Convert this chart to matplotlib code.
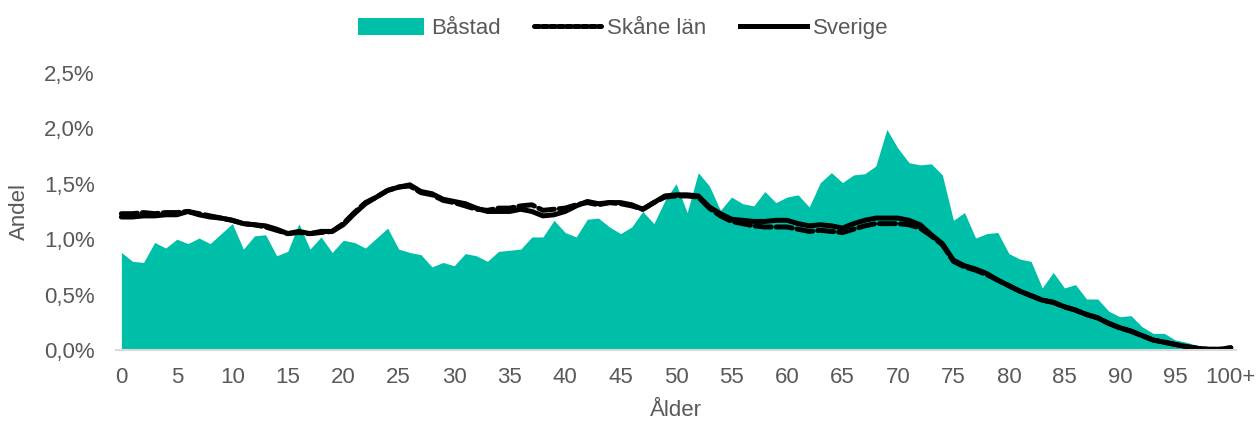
import matplotlib.pyplot as plt
from matplotlib.patches import Patch
from matplotlib.lines import Line2D
from matplotlib.ticker import FuncFormatter

plt.rcParams['font.family'] = ['Liberation Sans', 'DejaVu Sans']

ages = list(range(101))
tick_labels = ['0', '5', '10', '15', '20', '25', '30', '35', '40', '45', '50',
               '55', '60', '65', '70', '75', '80', '85', '90', '95', '100+']

# Andel av befolkningen (%) per ettårsklass
bastad = [0.88, 0.80, 0.79, 0.97, 0.92, 1.00, 0.96, 1.01, 0.96, 1.05,
          1.14, 0.91, 1.03, 1.04, 0.85, 0.89, 1.14, 0.91, 1.02, 0.88,
          0.99, 0.97, 0.92, 1.01, 1.10, 0.91, 0.88, 0.86, 0.75, 0.79,
          0.76, 0.87, 0.85, 0.80, 0.89, 0.90, 0.91, 1.02, 1.02, 1.17,
          1.06, 1.02, 1.18, 1.19, 1.11, 1.05, 1.11, 1.25, 1.14, 1.35,
          1.50, 1.24, 1.60, 1.48, 1.26, 1.38, 1.32, 1.30, 1.43, 1.33,
          1.38, 1.40, 1.29, 1.51, 1.60, 1.51, 1.58, 1.59, 1.66, 1.99,
          1.82, 1.69, 1.67, 1.68, 1.58, 1.17, 1.24, 1.01, 1.05, 1.06,
          0.87, 0.82, 0.80, 0.56, 0.70, 0.56, 0.59, 0.46, 0.46, 0.35,
          0.30, 0.31, 0.21, 0.15, 0.15, 0.09, 0.07, 0.04, 0.03, 0.02,
          0.01]

sverige = [1.20, 1.20, 1.21, 1.21, 1.22, 1.22, 1.25, 1.22, 1.20, 1.19,
           1.17, 1.14, 1.13, 1.12, 1.09, 1.05, 1.07, 1.05, 1.07, 1.07,
           1.13, 1.23, 1.32, 1.38, 1.44, 1.47, 1.49, 1.43, 1.41, 1.36,
           1.34, 1.32, 1.28, 1.25, 1.25, 1.25, 1.27, 1.25, 1.21, 1.22,
           1.25, 1.30, 1.34, 1.32, 1.33, 1.33, 1.31, 1.27, 1.33, 1.39,
           1.40, 1.40, 1.39, 1.29, 1.23, 1.18, 1.17, 1.16, 1.16, 1.17,
           1.17, 1.14, 1.12, 1.13, 1.12, 1.10, 1.14, 1.17, 1.19, 1.19,
           1.19, 1.17, 1.13, 1.04, 0.96, 0.81, 0.76, 0.73, 0.69, 0.63,
           0.58, 0.53, 0.49, 0.45, 0.43, 0.39, 0.36, 0.32, 0.29, 0.24,
           0.20, 0.17, 0.13, 0.09, 0.07, 0.05, 0.03, 0.015, 0.006, 0.006,
           0.02]

skane = [1.23, 1.23, 1.24, 1.23, 1.24, 1.24, 1.25, 1.23, 1.21, 1.19,
         1.17, 1.14, 1.13, 1.11, 1.08, 1.05, 1.06, 1.05, 1.06, 1.07,
         1.14, 1.24, 1.33, 1.38, 1.44, 1.47, 1.48, 1.42, 1.40, 1.35,
         1.33, 1.30, 1.27, 1.26, 1.28, 1.28, 1.30, 1.31, 1.26, 1.27,
         1.28, 1.31, 1.33, 1.31, 1.33, 1.32, 1.30, 1.27, 1.33, 1.38,
         1.39, 1.39, 1.38, 1.28, 1.21, 1.16, 1.14, 1.12, 1.11, 1.11,
         1.11, 1.09, 1.07, 1.08, 1.07, 1.06, 1.09, 1.12, 1.14, 1.14,
         1.14, 1.13, 1.10, 1.03, 0.95, 0.80, 0.75, 0.72, 0.68, 0.63,
         0.58, 0.53, 0.49, 0.45, 0.43, 0.39, 0.36, 0.32, 0.29, 0.24,
         0.20, 0.17, 0.13, 0.09, 0.07, 0.05, 0.03, 0.015, 0.006, 0.006,
         0.02]

teal = '#00BFA9'
grey = '#595959'

fig = plt.figure(figsize=(12.59, 4.23), dpi=100)
ax = fig.add_axes([0.092, 0.1726, 0.890, 0.655])

ax.fill_between(ages, bastad, 0, color=teal, linewidth=0)
ax.plot(ages, skane, color='black', linewidth=3.6, dashes=(3.2, 1.0),
        dash_capstyle='round')
ax.plot(ages, sverige, color='black', linewidth=3.6, solid_capstyle='round')

ax.set_xlim(-0.5, 100.5)
ax.set_ylim(0, 2.5)
ax.set_xticks(range(0, 101, 5))
ax.set_xticklabels(tick_labels)
ax.set_yticks([0, 0.5, 1.0, 1.5, 2.0, 2.5])
ax.yaxis.set_major_formatter(FuncFormatter(lambda v, p: f'{v:.1f}%'.replace('.', ',')))

for s in ['top', 'right', 'left']:
    ax.spines[s].set_visible(False)
ax.spines['bottom'].set_color('#d9d9d9')
ax.spines['bottom'].set_linewidth(1.5)
ax.tick_params(axis='both', length=0, labelsize=16, colors=grey)
ax.tick_params(axis='x', pad=12)
ax.tick_params(axis='y', pad=15)

ax.set_xlabel('Ålder', fontsize=16, color=grey, labelpad=9)
ax.set_ylabel('Andel', fontsize=16, color=grey, labelpad=10)

handles = [Patch(facecolor=teal, edgecolor='none'),
           Line2D([], [], color='black', linewidth=3.6, dashes=(1.0, 0.6),
                  dash_capstyle='round'),
           Line2D([], [], color='black', linewidth=3.6)]
fig.legend(handles, ['Båstad', 'Skåne län', 'Sverige'], loc='upper center',
           bbox_to_anchor=(0.495, 1.005), ncol=3, frameon=False, fontsize=16,
           labelcolor=grey, handlelength=3.0, handletextpad=0.3,
           columnspacing=1.5, handleheight=0.8)

fig.savefig('out.png', dpi=100)
